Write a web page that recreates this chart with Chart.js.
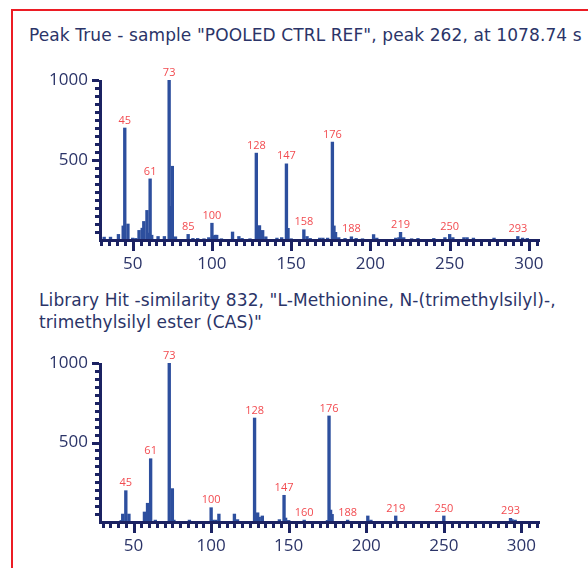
<!DOCTYPE html>
<html>
<head>
<meta charset="utf-8">
<script src="https://cdn.jsdelivr.net/npm/chart.js@4"></script>
<style>
  body { margin: 0; width: 588px; height: 568px; overflow: hidden; background: #fff; position: relative; font-family: 'Open Sans', sans-serif; }
  .frame { position: absolute; left: 11px; top: 9px; width: 620px; height: 620px; border: 2px solid #ec1c24; }
  .title { position: absolute; color: #2b3468; font-family: 'DejaVu Sans', sans-serif; font-size: 17px; letter-spacing: 0.1px; line-height: 22px; white-space: nowrap; }
  canvas { position: absolute; left: 0; }
</style>
</head>
<body>
<div class="frame"></div>
<div class="title" style="left:29px; top:24px">Peak True - sample "POOLED CTRL REF", peak 262, at 1078.74 s</div>
<div class="title" style="left:39px; top:289px">Library Hit -similarity 832, "L-Methionine, N-(trimethylsilyl)-,<br>trimethylsilyl ester (CAS)"</div>
<canvas id="peakChart" width="588" height="280" style="top:0"></canvas>
<canvas id="libChart" width="588" height="288" style="top:280px"></canvas>
<script>
// measured spectrum (m/z and intensity)
const sampleMz = [32, 36, 41, 44, 45, 47, 50, 52, 54, 56, 57, 59, 60, 61, 62, 66, 70, 73, 74, 75, 77,
  85, 88, 91, 95, 98, 100, 101, 102, 103, 106, 113, 117, 119, 124, 128, 130, 131, 132, 134, 141, 144,
  147, 148, 150, 158, 160, 162, 168, 170, 173, 176, 177, 178, 180, 184, 188, 191, 195, 202, 204, 216,
  218, 219, 221, 226, 230, 240, 247, 250, 252, 259, 261, 265, 278, 293, 296, 299];
const sampleIntensity = [18, 18, 35, 88, 700, 100, 12, 10, 60, 74, 116, 185, 43, 382, 30, 22, 22, 1000, 210, 461, 20,
  35, 10, 10, 8, 15, 105, 25, 30, 30, 8, 50, 22, 10, 8, 543, 90, 48, 60, 20, 12, 15,
  476, 73, 8, 64, 22, 10, 12, 12, 12, 612, 88, 48, 15, 10, 20, 10, 8, 34, 12, 12,
  15, 48, 15, 8, 10, 10, 15, 35, 15, 15, 15, 12, 12, 22, 12, 10];
const sampleLabels = [45, 61, 73, 85, 100, 128, 147, 158, 176, 188, 219, 250, 293];

// library spectrum
const libraryMz = [42, 43, 45, 47, 57, 58, 59, 61, 64, 73, 75, 76, 86, 100, 101, 103, 105, 115, 117,
  128, 130, 131, 133, 144, 147, 148, 150, 160, 175, 176, 177, 178, 188, 201, 203, 219, 250, 293, 294, 296];
const libraryIntensity = [10, 50, 197, 50, 63, 46, 118, 398, 12, 1000, 210, 12, 12, 90, 12, 12, 50, 50, 15,
  654, 58, 30, 38, 15, 168, 25, 10, 12, 10, 667, 75, 48, 12, 38, 12, 38, 38, 23, 15, 12];
const libraryLabels = [45, 61, 73, 100, 128, 147, 160, 176, 188, 219, 250, 293];

const mzTicks = [50, 100, 150, 200, 250, 300];
const intensityTicks = [500, 1000];

const navy = '#1b2262';
const labelNavy = '#2b3468';
const barBlue = '#2d4f9e';
const peakRed = '#f24b50';

// axis lines, minor/major tick marks and the m/z labels over the main peaks
const msAxes = {
  id: 'msAxes',
  afterDatasetsDraw(chart, args, opts) {
    const { ctx, chartArea: a, scales: { x, y } } = chart;
    ctx.save();
    ctx.fillStyle = navy;
    ctx.fillRect(a.left - 2, a.bottom - 1, a.right - a.left + 2, 3);
    ctx.fillRect(a.left - 2, a.top, 3, a.bottom - a.top + 1);
    for (let v = Math.ceil(x.min / 5) * 5; v <= x.max; v += 5) {
      const px = Math.round(x.getPixelForValue(v));
      const len = mzTicks.includes(v) ? 9 : 4;
      ctx.fillRect(px - 1, a.bottom + 2, 3, len);
    }
    for (let v = 50; v <= 1000; v += 50) {
      const py = Math.round(y.getPixelForValue(v));
      const len = intensityTicks.includes(v) ? 7 : 4;
      ctx.fillRect(a.left - 2 - len, py - 1, len, 3);
    }
    ctx.fillStyle = peakRed;
    ctx.font = '11px "Open Sans", sans-serif';
    ctx.textAlign = 'center';
    ctx.textBaseline = 'bottom';
    const meta = chart.getDatasetMeta(0);
    const mz = chart.data.datasets[0].data.map(p => p.x);
    opts.labels.forEach(m => {
      const el = meta.data[mz.indexOf(m)];
      if (el) ctx.fillText(String(m), el.x, el.y - 2);
    });
    ctx.restore();
  }
};

function spectrumChart(id, mz, intensity, labels, xMin, xMax, topPad, xAxisHeight) {
  return new Chart(document.getElementById(id), {
    type: 'bar',
    data: {
      datasets: [{
        data: mz.map((m, i) => ({ x: m, y: intensity[i] })),
        backgroundColor: barBlue,
        barThickness: 2.7
      }]
    },
    options: {
      responsive: false,
      animation: false,
      devicePixelRatio: 1,
      layout: { padding: { top: topPad, right: 48, bottom: 0, left: 0 } },
      plugins: {
        legend: { display: false },
        tooltip: { enabled: false },
        msAxes: { labels: labels }
      },
      scales: {
        x: {
          type: 'linear',
          min: xMin,
          max: xMax,
          offset: false,
          grid: { display: false, drawTicks: false },
          border: { display: false },
          afterBuildTicks: s => { s.ticks = mzTicks.map(v => ({ value: v })); },
          afterFit: s => { s.height = xAxisHeight; },
          ticks: { padding: 14, maxRotation: 0, autoSkip: false, color: labelNavy, font: { family: 'Open Sans', size: 17 },
            callback: v => String(v) }
        },
        y: {
          min: 0,
          max: 1000,
          grid: { display: false, drawTicks: false },
          border: { display: false },
          afterBuildTicks: s => { s.ticks = intensityTicks.map(v => ({ value: v })); },
          afterFit: s => { s.width = 101; },
          ticks: { padding: 13, color: labelNavy, font: { family: 'Open Sans', size: 17 },
            callback: v => String(v) }
        }
      }
    },
    plugins: [msAxes]
  });
}

spectrumChart('peakChart', sampleMz, sampleIntensity, sampleLabels, 30, 307, 80, 40);
spectrumChart('libChart', libraryMz, libraryIntensity, libraryLabels, 29, 312, 83, 46);
</script>
</body>
</html>
